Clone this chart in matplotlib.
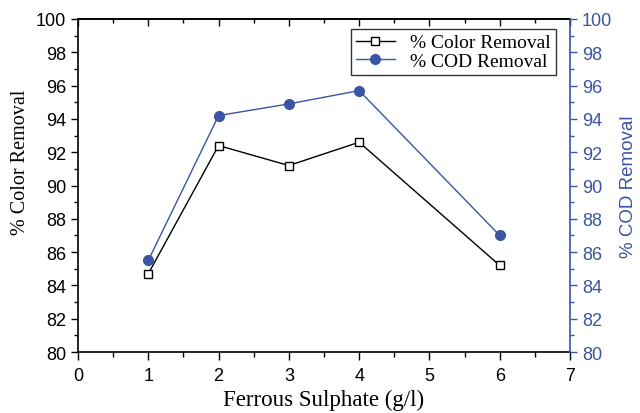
import matplotlib
matplotlib.use("Agg")
import matplotlib.pyplot as plt
from matplotlib.ticker import MultipleLocator

dose = [1, 2, 3, 4, 6]
color_removal = [84.7, 92.4, 91.2, 92.6, 85.2]
cod_removal = [85.5, 94.2, 94.9, 95.7, 87.0]

BLUE = "#3b54a3"
SANS = "Liberation Sans"
SERIF = "Liberation Serif"

fig = plt.figure(figsize=(6.4, 4.14), dpi=100)
ax = fig.add_axes([0.1219, 0.1473, 0.7687, 0.8044])
ax2 = ax.twinx()

l1, = ax.plot(dose, color_removal, color="black", lw=1.0, marker="s", ms=6,
              mfc="white", mec="black", mew=1.0, label="% Color Removal")
l2, = ax2.plot(dose, cod_removal, color=BLUE, lw=1.0, marker="o", ms=7,
               mfc=BLUE, mec=BLUE, label="% COD Removal")

for a in (ax, ax2):
    a.set_xlim(0, 7)
    a.set_ylim(80, 100)
    a.yaxis.set_major_locator(MultipleLocator(2))
    a.yaxis.set_minor_locator(MultipleLocator(1))

ax.xaxis.set_major_locator(MultipleLocator(1))
ax.xaxis.set_minor_locator(MultipleLocator(0.5))

ax.tick_params(axis="x", which="both", direction="out", bottom=True, top=False)
ax.tick_params(axis="x", which="major", length=6, width=1.0, labelsize=13, pad=5)
ax.tick_params(axis="x", which="minor", length=3.5, width=1.0)
ax.tick_params(axis="y", which="major", direction="out", length=5, width=1.0, labelsize=13)
ax.tick_params(axis="y", which="minor", direction="out", length=3, width=1.0)

# top edge carries inward ticks
sec = ax.secondary_xaxis("top")
sec.xaxis.set_major_locator(MultipleLocator(1))
sec.xaxis.set_minor_locator(MultipleLocator(0.5))
sec.tick_params(axis="x", which="major", direction="in", length=5, width=1.0, labeltop=False)
sec.tick_params(axis="x", which="minor", direction="in", length=3, width=1.0)
sec.spines["top"].set_linewidth(1.2)

ax2.tick_params(axis="y", which="major", direction="out", length=5, width=1.0,
                labelsize=13, colors=BLUE)
ax2.tick_params(axis="y", which="minor", direction="out", length=3, width=1.0, colors=BLUE)
ax2.spines["right"].set_color(BLUE)
ax2.spines["right"].set_linewidth(1.2)
ax2.spines["left"].set_visible(False)
ax2.spines["top"].set_visible(False)
ax2.spines["bottom"].set_visible(False)

for s in ("left", "bottom", "top"):
    ax.spines[s].set_linewidth(1.2)
ax.spines["right"].set_visible(False)

for lab in ax.get_xticklabels() + ax.get_yticklabels() + ax2.get_yticklabels():
    lab.set_fontfamily(SANS)

ax.set_xlabel("Ferrous Sulphate (g/l)", fontfamily=SERIF, fontsize=16.5, labelpad=3)
ax.set_ylabel("% Color Removal", fontfamily=SERIF, fontsize=14.5)
ax.yaxis.set_label_coords(-0.098, 0.574)
ax2.set_ylabel("% COD Removal", fontfamily=SANS, fontsize=13.5, color=BLUE, labelpad=6)

leg = ax2.legend(handles=[l1, l2], loc="upper right", bbox_to_anchor=(0.9715, 0.97),
                 prop={"family": SERIF, "size": 14}, frameon=True, fancybox=False,
                 edgecolor="black", borderpad=0.25, labelspacing=0.05,
                 handlelength=2.0, handletextpad=0.8, borderaxespad=0.0)
leg.get_frame().set_linewidth(1.0)

fig.savefig("out.png", dpi=100)
